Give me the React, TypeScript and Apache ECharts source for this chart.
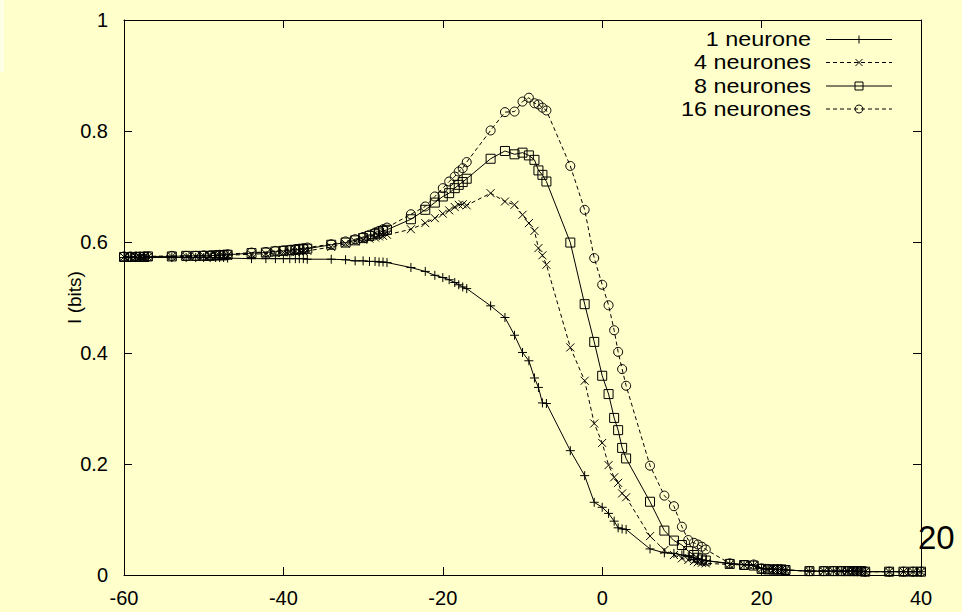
import React, { useEffect, useRef } from "react";
import * as echarts from "echarts";

// x grid (dB-like spacing)
const X = [
  -60, -59.2, -58.5, -58, -57.5,
  -57, -54, -52.2, -51, -50, -49.2, -48.5, -48, -47.5,
  -47, -44, -42.2, -41, -40, -39.2, -38.5, -38, -37.5,
  -37, -34, -32.2, -31, -30, -29.2, -28.5, -28, -27.5,
  -27, -24, -22.2, -21, -20, -19.2, -18.5, -18, -17.5,
  -17, -14, -12.2, -11, -10, -9.2, -8.5, -8, -7.5,
  -7, -4, -2.2, -1, 0, 0.8, 1.5, 2, 2.5,
  3, 6, 7.8, 9, 10, 10.8, 11.5, 12, 12.5,
  13, 16, 17.8, 19, 20, 20.8, 21.5, 22, 22.5,
  23, 26, 27.8, 29, 30, 30.8, 31.5, 32, 32.5,
  33, 36, 37.8, 39, 40,
];

const N1 = [
  0.572, 0.572, 0.572, 0.572, 0.572,
  0.572, 0.572, 0.572, 0.572, 0.572, 0.572, 0.572, 0.572, 0.572,
  0.571, 0.570, 0.570, 0.570, 0.570, 0.570, 0.570, 0.570, 0.570,
  0.569, 0.569, 0.568, 0.566, 0.566, 0.565, 0.565, 0.564, 0.564,
  0.563, 0.554, 0.547, 0.540, 0.536, 0.532, 0.527, 0.523, 0.519,
  0.516, 0.485, 0.464, 0.432, 0.401, 0.386, 0.355, 0.338, 0.310,
  0.309, 0.224, 0.179, 0.131, 0.122, 0.111, 0.097, 0.085, 0.083,
  0.082, 0.047, 0.040, 0.039, 0.036, 0.033, 0.031, 0.029, 0.027,
  0.026, 0.021, 0.019, 0.018, 0.012, 0.011, 0.011, 0.010, 0.010,
  0.009, 0.007, 0.007, 0.007, 0.007, 0.007, 0.007, 0.007, 0.007,
  0.006, 0.006, 0.006, 0.006, 0.006,
];

const N4 = [
  0.573, 0.573, 0.573, 0.573, 0.573,
  0.573, 0.574, 0.574, 0.574, 0.575, 0.575, 0.575, 0.575, 0.575,
  0.576, 0.578, 0.579, 0.580, 0.581, 0.582, 0.582, 0.583, 0.583,
  0.584, 0.591, 0.597, 0.601, 0.604, 0.606, 0.608, 0.610, 0.611,
  0.613, 0.623, 0.634, 0.643, 0.651, 0.657, 0.663, 0.667, 0.668,
  0.666, 0.688, 0.673, 0.667, 0.649, 0.634, 0.620, 0.589, 0.576,
  0.559, 0.410, 0.350, 0.273, 0.238, 0.198, 0.176, 0.166, 0.147,
  0.140, 0.070, 0.045, 0.036, 0.030, 0.027, 0.025, 0.023, 0.022,
  0.021, 0.019, 0.018, 0.017, 0.011, 0.010, 0.010, 0.010, 0.010,
  0.009, 0.007, 0.007, 0.007, 0.007, 0.007, 0.007, 0.007, 0.007,
  0.006, 0.006, 0.006, 0.006, 0.006,
];

const N8 = [
  0.573, 0.573, 0.573, 0.573, 0.573,
  0.574, 0.574, 0.575, 0.575, 0.575, 0.575, 0.576, 0.576, 0.576,
  0.577, 0.580, 0.581, 0.583, 0.584, 0.585, 0.586, 0.587, 0.587,
  0.588, 0.595, 0.599, 0.603, 0.607, 0.611, 0.614, 0.617, 0.620,
  0.622, 0.641, 0.658, 0.671, 0.682, 0.688, 0.697, 0.703, 0.708,
  0.714, 0.750, 0.764, 0.758, 0.761, 0.756, 0.748, 0.729, 0.721,
  0.709, 0.599, 0.488, 0.420, 0.359, 0.326, 0.283, 0.261, 0.229,
  0.210, 0.132, 0.080, 0.062, 0.054, 0.043, 0.036, 0.031, 0.028,
  0.026, 0.020, 0.018, 0.017, 0.011, 0.010, 0.010, 0.010, 0.010,
  0.009, 0.007, 0.007, 0.007, 0.007, 0.007, 0.007, 0.007, 0.007,
  0.006, 0.006, 0.006, 0.006, 0.006,
];

const N16 = [
  0.574, 0.574, 0.574, 0.574, 0.574,
  0.574, 0.575, 0.575, 0.575, 0.576, 0.576, 0.576, 0.577, 0.577,
  0.578, 0.581, 0.582, 0.584, 0.585, 0.586, 0.587, 0.588, 0.589,
  0.590, 0.596, 0.601, 0.605, 0.609, 0.613, 0.617, 0.620, 0.623,
  0.626, 0.650, 0.664, 0.682, 0.697, 0.709, 0.718, 0.727, 0.733,
  0.744, 0.801, 0.834, 0.835, 0.853, 0.860, 0.850, 0.848, 0.842,
  0.837, 0.737, 0.658, 0.571, 0.523, 0.486, 0.441, 0.402, 0.371,
  0.341, 0.197, 0.143, 0.124, 0.087, 0.063, 0.058, 0.055, 0.051,
  0.046, 0.021, 0.018, 0.019, 0.012, 0.011, 0.010, 0.010, 0.010,
  0.009, 0.007, 0.007, 0.007, 0.007, 0.007, 0.007, 0.007, 0.007,
  0.006, 0.006, 0.006, 0.006, 0.006,
];

const SERIES_NAMES = ["1 neurone", "4 neurones", "8 neurones", "16 neurones"];
const X_TICKS = [-60, -40, -20, 0, 20, 40];
const Y_TICKS = [0, 0.2, 0.4, 0.6, 0.8, 1];
const Y_LABEL = "I (bits)";
const PAGE_NUMBER = "20";

const FONT = '"Liberation Sans", Arial, Helvetica, sans-serif';
const BG = "#ffffcc";

const PLUS = "path://M5,0L5,10M0,5L10,5";
const CROSS = "path://M0,0L10,10M0,10L10,0";

export default function App() {
  const ref = useRef<HTMLDivElement>(null);

  useEffect(() => {
    if (!ref.current) return;
    const chart = echarts.init(ref.current, null, { renderer: "svg" });

    const mk = (ys: number[]) => X.map((x, i) => [x, ys[i]]);
    const markerStyle = {
      color: "transparent",
      borderColor: "#000",
      borderWidth: 1,
    };
    const seriesDefs = [
      { name: SERIES_NAMES[0], ys: N1, symbol: PLUS, size: 9, dash: "solid" as any },
      { name: SERIES_NAMES[1], ys: N4, symbol: CROSS, size: 8, dash: [4, 3] },
      { name: SERIES_NAMES[2], ys: N8, symbol: "rect", size: 9, dash: "solid" as any },
      { name: SERIES_NAMES[3], ys: N16, symbol: "circle", size: 9, dash: [4, 3] },
    ];

    // legend drawn as graphic (text right-aligned, sample to the right)
    const legendTextRight = 811;
    const lx1 = 826;
    const lx2 = 892;
    const lmx = 859;
    const rows = [39.5, 62.5, 86, 109];
    const legend: any[] = [];
    seriesDefs.forEach((s, i) => {
      const y = rows[i];
      legend.push({
        type: "text",
        x: legendTextRight,
        y,
        scaleX: 1.17,
        silent: true,
        style: {
          text: s.name,
          fill: "#000",
          fontSize: 20,
          fontFamily: FONT,
          align: "right",
          verticalAlign: "middle",
        },
      });
      legend.push({
        type: "line",
        silent: true,
        shape: { x1: lx1, y1: y, x2: lx2, y2: y },
        style: {
          stroke: "#000",
          lineWidth: 1,
          lineDash: Array.isArray(s.dash) ? s.dash : null,
        },
      });
      if (i === 0) {
        legend.push({ type: "line", silent: true, shape: { x1: lmx - 4, y1: y, x2: lmx + 4, y2: y }, style: { stroke: "#000", lineWidth: 1 } });
        legend.push({ type: "line", silent: true, shape: { x1: lmx, y1: y - 4, x2: lmx, y2: y + 4 }, style: { stroke: "#000", lineWidth: 1 } });
      } else if (i === 1) {
        legend.push({ type: "line", silent: true, shape: { x1: lmx - 3.5, y1: y - 3.5, x2: lmx + 3.5, y2: y + 3.5 }, style: { stroke: "#000", lineWidth: 1 } });
        legend.push({ type: "line", silent: true, shape: { x1: lmx - 3.5, y1: y + 3.5, x2: lmx + 3.5, y2: y - 3.5 }, style: { stroke: "#000", lineWidth: 1 } });
      } else if (i === 2) {
        legend.push({ type: "rect", silent: true, shape: { x: lmx - 4, y: y - 4, width: 8, height: 8 }, style: { fill: "none", stroke: "#000", lineWidth: 1 } });
      } else {
        legend.push({ type: "circle", silent: true, shape: { cx: lmx, cy: y, r: 4 }, style: { fill: "none", stroke: "#000", lineWidth: 1 } });
      }
    });

    const axisCommon = {
      axisLine: { show: true, onZero: false, lineStyle: { color: "#000", width: 1 } },
      axisTick: { show: true, inside: true, length: 8, lineStyle: { color: "#000", width: 1 } },
      splitLine: { show: false },
    };

    chart.setOption({
      animation: false,
      backgroundColor: BG,
      grid: { left: 124, right: 41, top: 20, bottom: 37, containLabel: false },
      xAxis: [
        {
          type: "value",
          min: X_TICKS[0],
          max: X_TICKS[X_TICKS.length - 1],
          interval: 20,
          position: "bottom",
          ...axisCommon,
          axisLabel: {
            color: "#000",
            fontSize: 20,
            fontFamily: FONT,
            margin: 13,
            formatter: (v: number) => String(Math.round(v)),
          },
        },
        {
          type: "value",
          min: X_TICKS[0],
          max: X_TICKS[X_TICKS.length - 1],
          interval: 20,
          position: "top",
          ...axisCommon,
          axisLabel: { show: false },
        },
      ],
      yAxis: [
        {
          type: "value",
          min: Y_TICKS[0],
          max: Y_TICKS[Y_TICKS.length - 1],
          interval: 0.2,
          position: "left",
          ...axisCommon,
          name: Y_LABEL,
          nameLocation: "middle",
          nameRotate: 90,
          nameGap: 40,
          nameMoveOverlap: false,
          nameTextStyle: { color: "#000", fontSize: 19, fontFamily: FONT },
          axisLabel: {
            color: "#000",
            fontSize: 20,
            fontFamily: FONT,
            margin: 16,
            formatter: (v: number) => {
              const r = Math.round(v * 10) / 10;
              return r === 0 ? "0" : r === 1 ? "1" : r.toFixed(1);
            },
          },
        },
        {
          type: "value",
          min: Y_TICKS[0],
          max: Y_TICKS[Y_TICKS.length - 1],
          interval: 0.2,
          position: "right",
          ...axisCommon,
          axisLabel: { show: false },
        },
      ],
      series: seriesDefs.map((s) => ({
        type: "line",
        name: s.name,
        xAxisIndex: 0,
        yAxisIndex: 0,
        data: mk(s.ys),
        symbol: s.symbol,
        symbolSize: s.size,
        showSymbol: true,
        showAllSymbol: true,
        silent: true,
        lineStyle: { color: "#000", width: 1, type: s.dash },
        itemStyle: markerStyle,
        emphasis: { disabled: true },
      })),
      graphic: [
        {
          type: "rect",
          silent: true,
          shape: { x: 0, y: 0, width: 4, height: 72 },
          style: { fill: "#ffffe8" },
        },
        ...legend,
        {
          type: "text",
          x: 918,
          y: 537,
          silent: true,
          z: 100,
          style: {
            text: PAGE_NUMBER,
            fill: "#000",
            fontSize: 33,
            fontFamily: FONT,
            align: "left",
            verticalAlign: "middle",
          },
        },
      ],
    });

    return () => chart.dispose();
  }, []);

  return (
    <div
      ref={ref}
      style={{ position: "absolute", left: 0, top: 0, width: 962, height: 612 }}
    />
  );
}
